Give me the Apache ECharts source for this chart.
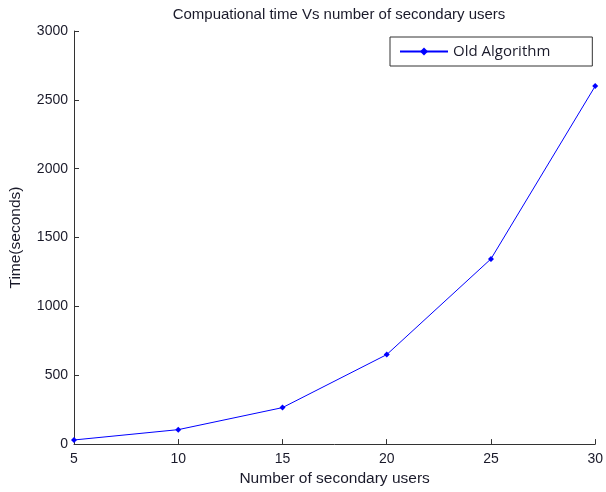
<!DOCTYPE html>
<html>
<head>
<meta charset="utf-8">
<script src="https://cdn.jsdelivr.net/npm/echarts@6/dist/echarts.min.js"></script>
<style>
	html, body { margin: 0; padding: 0; background: #fff; }
	#chart { width: 606px; height: 492px; }
</style>
</head>
<body>
<div id="chart"></div>
<script>
	// Data
	const users = [5, 10, 15, 20, 25, 30];
	const oldTimes = [30, 105, 265, 650, 1345, 2600];
	const yTicks = [0, 500, 1000, 1500, 2000, 2500, 3000];

	const axisFont = 'Liberation Sans, Arial, sans-serif';
	const textColor = '#1a1a2a';

	let myChart = echarts.init(document.getElementById('chart'));

	myChart.setOption({
		animation: false,
		title: {
			text: 'Compuational time Vs number of secondary users',
			left: 334,
			textAlign: 'center',
			top: 2,
			textStyle: {
				fontFamily: axisFont,
				fontSize: 15,
				fontWeight: 'normal',
				color: textColor
			}
		},
		legend: {
			data: ['Old Algorithm'],
			left: 390,
			top: 37,
			padding: [7, 42, 7, 9],
			itemWidth: 48,
			itemHeight: 10,
			itemGap: 6,
			borderColor: '#333',
			borderWidth: 1,
			borderRadius: 0,
			backgroundColor: '#fff',
			textStyle: {
				fontFamily: 'Open Sans, Noto Sans, sans-serif',
				fontSize: 15,
				color: textColor
			}
		},
		grid: {
			left: 72,
			right: 6,
			top: 31,
			bottom: 46,
			containLabel: false
		},
		xAxis: {
			type: 'value',
			min: 5,
			max: 30,
			interval: 5,
			name: 'Number of secondary users',
			nameLocation: 'center',
			nameGap: 25,
			nameTextStyle: {
				fontFamily: axisFont,
				fontSize: 15.5,
				color: textColor
			},
			axisLine: { lineStyle: { color: '#333', width: 1 } },
			axisTick: { inside: true, length: 5, lineStyle: { color: '#333' } },
			axisLabel: {
				fontFamily: axisFont,
				fontSize: 14,
				color: textColor,
				margin: 8
			},
			splitLine: { show: false }
		},
		yAxis: {
			type: 'value',
			min: 0,
			max: 3000,
			interval: 500,
			name: 'Time(seconds)',
			nameLocation: 'center',
			nameGap: 50,
			nameTextStyle: {
				fontFamily: axisFont,
				fontSize: 15.5,
				color: textColor
			},
			axisLine: { show: true, lineStyle: { color: '#333', width: 1 } },
			axisTick: { show: true, inside: true, length: 5, lineStyle: { color: '#333' } },
			axisLabel: {
				fontFamily: axisFont,
				fontSize: 14,
				color: textColor,
				margin: 6,
				formatter: function (v) {
					return yTicks.includes(v) ? String(v) : '';
				}
			},
			splitLine: { show: false }
		},
		series: [{
			name: 'Old Algorithm',
			type: 'line',
			data: users.map((u, i) => [u, oldTimes[i]]),
			symbol: 'diamond',
			symbolSize: 6,
			showAllSymbol: true,
			lineStyle: { color: '#0000ff', width: 1 },
			itemStyle: { color: '#0000ff' }
		}]
	});
</script>
</body>
</html>
